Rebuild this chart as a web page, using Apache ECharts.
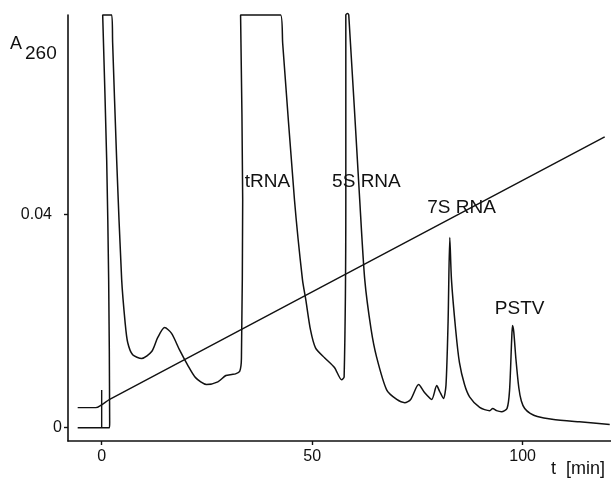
<!DOCTYPE html>
<html>
<head>
<meta charset="utf-8">
<script src="https://cdn.jsdelivr.net/npm/echarts@6/dist/echarts.min.js"></script>
<style>
html,body{margin:0;padding:0;background:#fff;}
#c{width:611px;height:482px;}
</style>
</head>
<body>
<div id="c"></div>
<script>
// Elution time (min) and absorbance A260 of the chromatogram trace
const traceTime = [-5.7, 1.85, 1.9, 1.66, 1.19, 0.24, 2.38, 2.6, 3.56, 4.75, 5.6, 6.18, 7.36, 9.5, 11.88, 13.3, 14.96, 16.6, 18.5, 20.4, 22.3, 24.9, 27.6, 29.5, 30.9, 31.8, 32.8, 33.2, 33.5, 33.0,
  42.5, 43.0, 45.8, 47.7, 48.5, 49.6, 50.8, 53.0, 55.3, 57.0,
  57.6, 58.0, 58.0, 58.4, 58.7, 61.3, 62.5, 64.0, 65.3, 67.7, 70.1, 72.0, 73.4, 75.3, 76.7, 78.4, 79.6, 80.3, 81.2, 81.8, 82.3, 82.7,
  83.1, 84.1, 85.0, 86.2, 87.4, 89.8, 92.2, 92.9, 93.8, 95.0, 96.3, 96.9, 97.4, 97.6, 97.9, 98.4, 99.1, 99.7, 100.5, 101.8, 103.5, 107.0, 113.5, 120.7];
const traceA260 = [0, 0, 0.0010, 0.0278, 0.0503, 0.0775, 0.0775, 0.0724, 0.0503, 0.0278, 0.0195, 0.0160, 0.0137, 0.0130, 0.0143, 0.0169, 0.0188, 0.0177, 0.0146, 0.0118, 0.0094, 0.0081, 0.0086, 0.0098, 0.0100, 0.0101, 0.0106, 0.0130, 0.0428, 0.0775,
  0.0775, 0.0722, 0.0428, 0.0278, 0.0240, 0.0184, 0.0150, 0.0131, 0.0113, 0.0090,
  0.0095, 0.0428, 0.0775, 0.0778, 0.0775, 0.0428, 0.0278, 0.0185, 0.0133, 0.0071, 0.0053, 0.0047, 0.0053, 0.0081, 0.0066, 0.0053, 0.0079, 0.0068, 0.0055, 0.0080, 0.0200, 0.0357,
  0.0278, 0.0184, 0.0122, 0.0081, 0.0058, 0.0038, 0.0032, 0.0036, 0.0032, 0.0030, 0.0036, 0.0070, 0.0165, 0.0192, 0.0180, 0.0130, 0.0075, 0.0050, 0.0036, 0.0027, 0.0021, 0.0016, 0.0011, 0.0006];

// Salt gradient line (drawn on the same scale)
const gradientTime = [-5.7, -1.4, 0, 1.9, 119.5];
const gradientLevel = [0.00376, 0.00376, 0.0043, 0.0053, 0.0546];

// Injection marker
const markerTime = [0, 0];
const markerLevel = [0, 0.0071];

// Peak annotations
const peakNames = ['tRNA', '5S RNA', '7S RNA', 'PSTV'];
const peakLabelTime = [39.4, 62.9, 85.5, 99.3];
const peakLabelLevel = [0.0462, 0.0462, 0.0413, 0.0223];

// Tick labels
const xTickValues = [0, 50, 100];
const yTickValues = [0, 0.04];
const yTickLabels = ['0', '0.04'];

const zip = (a, b) => a.map((v, i) => [v, b[i]]);
const ink = '#111111';
const font = 'Liberation Sans';

const chart = echarts.init(document.getElementById('c'), null, {renderer: 'canvas'});
chart.setOption({
  backgroundColor: '#ffffff',
  animation: false,
  grid: {left: 68, right: 0, top: 15, bottom: 41, containLabel: false},
  xAxis: {
    type: 'value', min: -8, max: 121,
    axisLine: {show: true, onZero: false, lineStyle: {color: ink, width: 1.6}},
    axisTick: {show: true, length: 4, customValues: xTickValues, lineStyle: {color: ink, width: 1.4}},
    axisLabel: {show: true, customValues: xTickValues, margin: 8, color: ink, fontSize: 16, fontFamily: font},
    splitLine: {show: false}
  },
  yAxis: {
    type: 'value', min: -0.0025, max: 0.0775,
    axisLine: {show: true, onZero: false, lineStyle: {color: ink, width: 1.6}},
    axisTick: {show: true, length: 4, customValues: yTickValues, lineStyle: {color: ink, width: 1.4}},
    axisLabel: {show: true, customValues: yTickValues, margin: 6, color: ink, fontSize: 16, fontFamily: font,
      formatter: v => {
        const i = yTickValues.findIndex(t => Math.abs(t - v) < 1e-9);
        if (i < 0) return '';
        return i === 0 ? '{n|' + yTickLabels[i] + '}' : '{w|' + yTickLabels[i] + '}';
      },
      rich: {
        n: {fontSize: 16, fontFamily: font, color: ink},
        w: {fontSize: 16, fontFamily: font, color: ink, padding: [0, 10, 0, 0]}
      }},
    splitLine: {show: false}
  },
  series: [
    {type: 'line', data: zip(traceTime, traceA260), showSymbol: false, symbol: 'none', smooth: 0.25,
      clip: false, lineStyle: {color: ink, width: 1.5}},
    {type: 'line', data: zip(gradientTime, gradientLevel), showSymbol: false, symbol: 'none', smooth: 0.3,
      clip: false, lineStyle: {color: ink, width: 1.4}},
    {type: 'line', data: zip(markerTime, markerLevel), showSymbol: false, symbol: 'none',
      lineStyle: {color: ink, width: 1.4}}
  ]
});

// Peak labels placed through the chart's own scales
const peakGraphics = peakNames.map((n, i) => {
  const p = chart.convertToPixel({gridIndex: 0}, [peakLabelTime[i], peakLabelLevel[i]]);
  return {type: 'text', x: p[0], y: p[1], z: 100,
    style: {text: n, fontSize: 19, fontFamily: font, fill: ink, align: 'center', verticalAlign: 'middle'}};
});
chart.setOption({
  graphic: [
    {type: 'text', left: 10, top: 35, style: {text: 'A', fontSize: 18, fontFamily: font, fill: ink}},
    {type: 'text', left: 25, top: 44, style: {text: '260', fontSize: 19, fontFamily: font, fill: ink}},
    {type: 'text', left: 551, top: 460, style: {text: 't  [min]', fontSize: 18, fontFamily: font, fill: ink}}
  ].concat(peakGraphics)
});
</script>
</body>
</html>
